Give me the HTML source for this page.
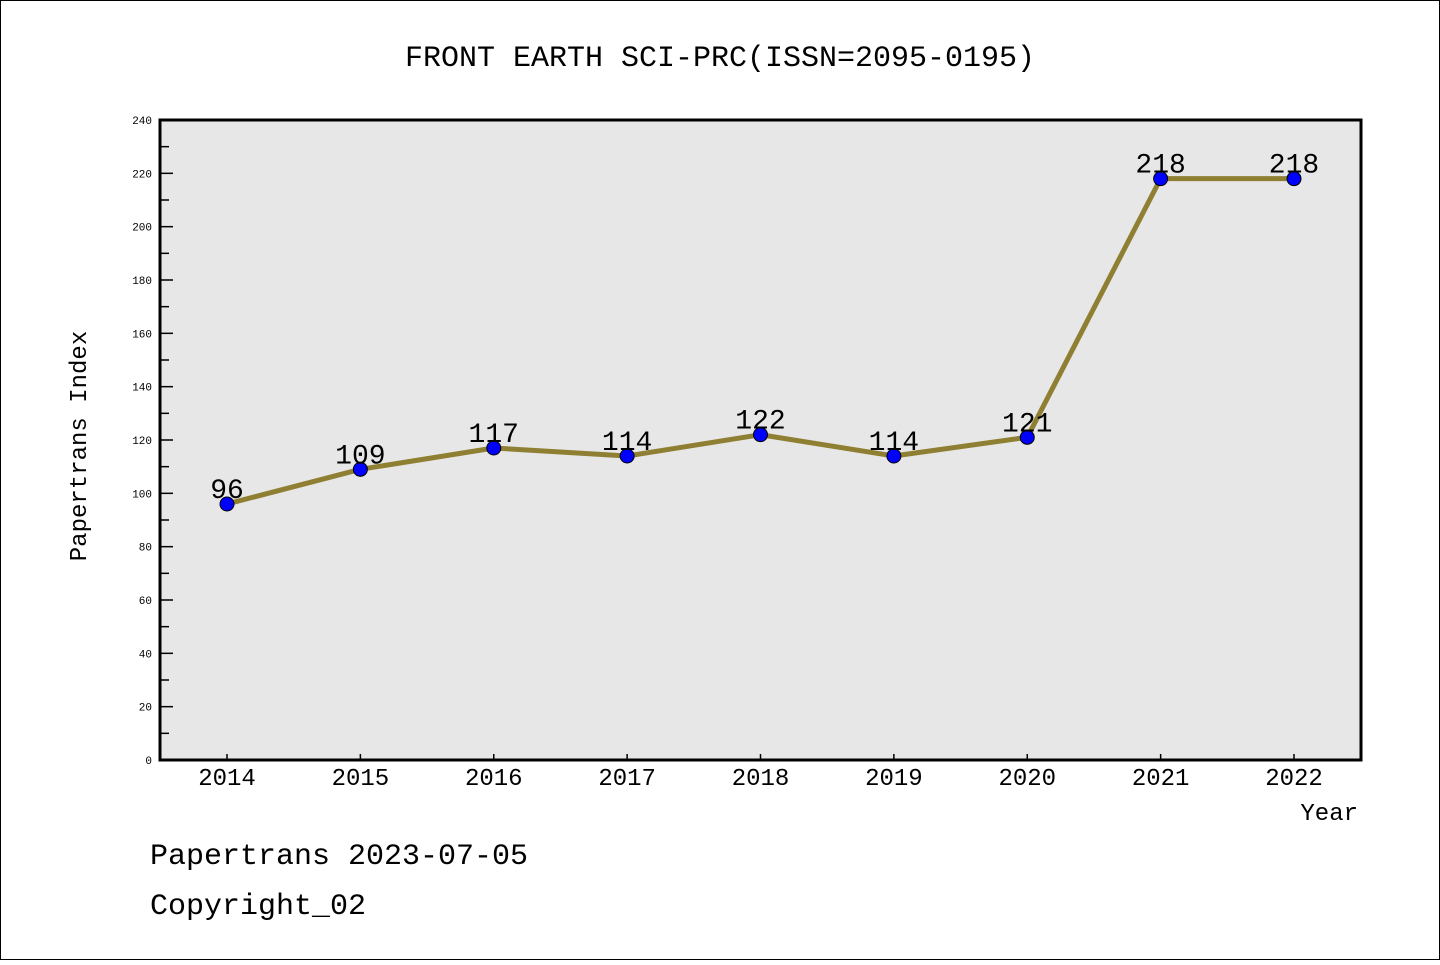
<!DOCTYPE html>
<html><head><meta charset="utf-8"><style>
body{margin:0;background:#fff}
svg text{font-family:"Liberation Mono","WenQuanYi Zen Hei",monospace}
</style></head><body>
<svg width="1440" height="960" viewBox="0 0 1440 960">
<rect x="0.5" y="0.5" width="1439" height="959" fill="#fff" stroke="#000"/>
<text x="720" y="66" text-anchor="middle" font-size="30">FRONT EARTH SCI-PRC(ISSN=2095-0195)</text>
<rect x="160" y="120" width="1201" height="640" fill="#e7e7e7"/>
<g id="axes"></g>
<g id="series"></g>
<rect x="160" y="120" width="1201" height="640" fill="none" stroke="#000" stroke-width="3"/>
<text x="86" y="446" text-anchor="middle" font-size="24" transform="rotate(-90 86 446)">Papertrans Index</text>
<text x="1358" y="820" text-anchor="end" font-size="24">Year</text>
<text x="150" y="864" font-size="30">Papertrans 2023-07-05</text>
<text x="150" y="914" font-size="30">Copyright_02</text>
</svg>
<script>
const years=["2014","2015","2016","2017","2018","2019","2020","2021","2022"];
const values=[96,109,117,114,122,114,121,218,218];
const yTicks=[0,20,40,60,80,100,120,140,160,180,200,220,240];
const NS="http://www.w3.org/2000/svg";
const xs=i=>227+i*(1294-227)/(years.length-1);
const ys=v=>760-v*640/240;
function mk(t,a,p){const e=document.createElementNS(NS,t);for(const k in a)e.setAttribute(k,a[k]);p.appendChild(e);return e;}
const ax=document.getElementById('axes');
yTicks.forEach((v,i)=>{
 const l=mk('line',{x1:160,x2:173,y1:ys(v),y2:ys(v),stroke:'#000','stroke-width':1.5},ax);
 
 
 const t=mk('text',{x:152,y:ys(v)+4,'text-anchor':'end','font-size':11},ax);t.textContent=v;
 
 
 if(i<yTicks.length-1){const m=mk('line',{x1:160,x2:169,y1:ys(v+10),y2:ys(v+10),stroke:'#000','stroke-width':1.5},ax);
 
 }
});
years.forEach((y,i)=>{
 const l=mk('line',{x1:xs(i),x2:xs(i),y1:760,y2:754,stroke:'#000','stroke-width':1.5},ax);
 
 
 const t=mk('text',{x:xs(i),y:785,'text-anchor':'middle','font-size':24},ax);t.textContent=y;
 
 
});
const sg=document.getElementById('series');
const pl=mk('polyline',{points:values.map((v,i)=>xs(i)+','+ys(v)).join(' '),fill:'none',stroke:'#8f7f32','stroke-width':5,'stroke-linejoin':'round'},sg);


values.forEach((v,i)=>{
 const c=mk('circle',{cx:xs(i),cy:ys(v),r:7,fill:'#0000ff',stroke:'#000','stroke-width':1},sg);
 
 
 const t=mk('text',{x:xs(i),y:ys(v)-6,'text-anchor':'middle','font-size':28},sg);t.textContent=v;
 
 
});
</script>
</body></html>
